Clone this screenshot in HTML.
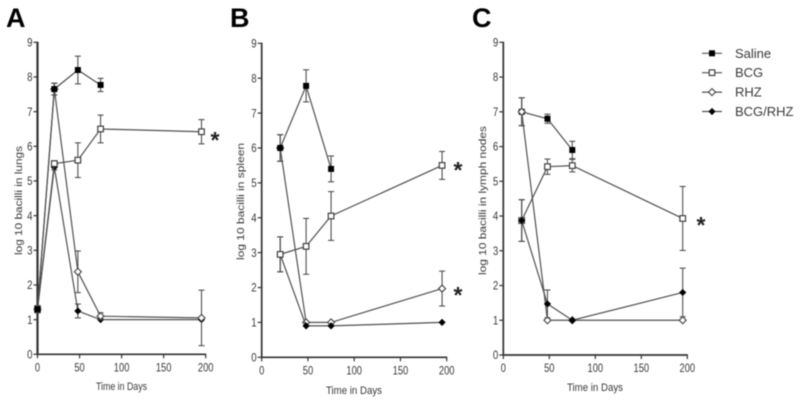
<!DOCTYPE html>
<html lang="en">
<head>
<meta charset="utf-8">
<title>Log 10 bacilli over time</title>
<style>
html,body{margin:0;padding:0;background:#fff;}
body{width:800px;height:402px;overflow:hidden;}
svg{display:block;filter:blur(0.45px);font-family:"Liberation Sans",sans-serif;}
</style>
</head>
<body>
<svg id="chart" width="800" height="402" viewBox="0 0 800 402" xmlns="http://www.w3.org/2000/svg"></svg>
<script>
const xTicks = [0, 50, 100, 150, 200];
const yTicks = [0, 1, 2, 3, 4, 5, 6, 7, 8, 9];
const legendLabels = ['Saline', 'BCG', 'RHZ', 'BCG/RHZ'];

const aSalineDays = [0, 20, 48, 75];
const aSalineValues = [1.3, 7.65, 8.2, 7.77];
const aSalineErrors = [0.1, 0.17, 0.4, 0.19];
const aBcgDays = [0, 20, 48, 75, 195];
const aBcgValues = [1.3, 5.5, 5.6, 6.5, 6.42];
const aBcgErrors = [0.1, 0.08, 0.5, 0.4, 0.35];
const aRhzDays = [0, 20, 48, 75, 195];
const aRhzValues = [1.3, 7.65, 2.38, 1.1, 1.05];
const aRhzErrors = [0.1, 0.17, 0.6, 0.1, 0.8];
const aComboDays = [0, 20, 48, 75, 195];
const aComboValues = [1.3, 5.4, 1.25, 1.0, 1.0];
const aComboErrors = [0.1, 0.08, 0.2, 0, 0];

const bSalineDays = [20, 48, 75];
const bSalineValues = [6.0, 7.78, 5.4];
const bSalineErrors = [0.38, 0.46, 0.37];
const bBcgDays = [20, 48, 75, 195];
const bBcgValues = [2.95, 3.18, 4.05, 5.5];
const bBcgErrors = [0.5, 0.8, 0.7, 0.4];
const bRhzDays = [20, 48, 75, 195];
const bRhzValues = [6.0, 1.0, 1.0, 1.97];
const bRhzErrors = [0.38, 0, 0, 0.5];
const bComboDays = [20, 48, 75, 195];
const bComboValues = [2.95, 0.9, 0.9, 1.0];
const bComboErrors = [0.5, 0, 0, 0];

const cSalineDays = [20, 48, 75];
const cSalineValues = [7.0, 6.8, 5.9];
const cSalineErrors = [0.4, 0.13, 0.25];
const cBcgDays = [20, 48, 75, 195];
const cBcgValues = [3.87, 5.42, 5.45, 3.93];
const cBcgErrors = [0.6, 0.22, 0.18, 0.92];
const cRhzDays = [20, 48, 75, 195];
const cRhzValues = [7.0, 1.0, 1.0, 1.0];
const cRhzErrors = [0.4, 0, 0, 0];
const cComboDays = [20, 48, 75, 195];
const cComboValues = [3.87, 1.47, 1.0, 1.8];
const cComboErrors = [0.6, 0.4, 0, 0.7];

const NS = 'http://www.w3.org/2000/svg';
const root = document.getElementById('chart');
const AXIS = '#333', LINE = '#505050', INK = '#383838';

function make(parent, tag, attrs, name) {
  const el = document.createElementNS(NS, tag);
  for (const k in attrs) el.setAttribute(k, attrs[k]);
  
  
  parent.appendChild(el);
  return el;
}
function label(parent, str, attrs, name) {
  const el = make(parent, 'text', attrs, name);
  el.textContent = str;
  return el;
}
function marker(parent, kind, x, y, name) {
  if (kind === 'saline') {
    make(parent, 'rect', {x: x - 3, y: y - 3, width: 6, height: 6, fill: '#000'}, name);
  } else if (kind === 'bcg') {
    make(parent, 'rect', {x: x - 2.8, y: y - 2.8, width: 5.6, height: 5.6, fill: '#fff', stroke: '#404040', 'stroke-width': 1.2}, name);
  } else if (kind === 'rhz') {
    make(parent, 'polygon', {points: [x, y - 3.5, x + 3.5, y, x, y + 3.5, x - 3.5, y].join(' '), fill: '#fff', stroke: '#404040', 'stroke-width': 1.1}, name);
  } else {
    make(parent, 'polygon', {points: [x, y - 3.6, x + 3.6, y, x, y + 3.6, x - 3.6, y].join(' '), fill: '#000'}, name);
  }
}
function drawSeries(g, s, sx, sy, key) {
  const group = make(g, 'g', {}, key + '-series');
  const pts = s.days.map((d, i) => sx(d) + ',' + sy(s.values[i])).join(' ');
  make(group, 'polyline', {points: pts, fill: 'none', stroke: LINE, 'stroke-width': 1.2}, key + '-line');
  s.days.forEach((d, i) => {
    const err = s.errors[i];
    if (err > 0) {
      const x = sx(d), hi = sy(s.values[i] + err), lo = sy(s.values[i] - err);
      make(group, 'line', {x1: x, x2: x, y1: hi, y2: lo, stroke: LINE, 'stroke-width': 1.1}, key + '-error-bar');
      make(group, 'line', {x1: x - 3, x2: x + 3, y1: hi, y2: hi, stroke: LINE, 'stroke-width': 1.1}, key + '-error-cap-top');
      make(group, 'line', {x1: x - 3, x2: x + 3, y1: lo, y2: lo, stroke: LINE, 'stroke-width': 1.1}, key + '-error-cap-bottom');
    }
  });
  s.days.forEach((d, i) => {
    marker(group, s.kind, sx(d), sy(s.values[i]), key + '-point');
  });
}
function drawPanel(p) {
  const g = make(root, 'g', {}, 'panel-' + p.id);
  const sx = v => p.x0 + (p.x200 - p.x0) * v / 200;
  const sy = v => p.y0 + (p.y9 - p.y0) * v / 9;
  label(g, p.id, {x: p.letterX, y: 27, 'font-size': 27, 'font-weight': 'bold', fill: '#000'}, 'panel-letter-' + p.id.toLowerCase());
  make(g, 'line', {x1: p.x0, x2: p.x0, y1: p.y9 - 0.5, y2: p.y0 + 0.5, stroke: AXIS, 'stroke-width': p.axisWidth}, 'y-axis');
  make(g, 'line', {x1: p.x0, x2: p.x200 + 0.5, y1: p.y0, y2: p.y0, stroke: AXIS, 'stroke-width': 1.7}, 'x-axis');
  yTicks.forEach(t => {
    make(g, 'line', {x1: p.x0 - 4, x2: p.x0, y1: sy(t), y2: sy(t), stroke: AXIS, 'stroke-width': 1.2}, 'y-tick');
    label(g, String(t), {x: p.x0 - 5, y: sy(t) + 4.2, 'font-size': 11.5, 'text-anchor': 'end', fill: INK, textLength: 5.4, lengthAdjust: 'spacingAndGlyphs'}, 'y-tick-label');
  });
  xTicks.forEach(t => {
    make(g, 'line', {x1: sx(t), x2: sx(t), y1: p.y0, y2: p.y0 + 4, stroke: AXIS, 'stroke-width': 1.2}, 'x-tick');
    label(g, String(t), {x: sx(t), y: p.y0 + 17, 'font-size': 11.5, 'text-anchor': 'middle', fill: INK, textLength: String(t).length * 5.2, lengthAdjust: 'spacingAndGlyphs'}, 'x-tick-label');
  });
  label(g, 'Time in Days', {x: p.xTitleX, y: p.xTitleY, 'font-size': 11, 'text-anchor': 'middle', fill: INK, textLength: p.xTitleLen, lengthAdjust: 'spacingAndGlyphs'}, 'x-axis-title');
  label(g, p.yTitle, {x: 0, y: 0, 'font-size': 10.5, 'text-anchor': 'middle', fill: INK, textLength: p.yTitleLen, lengthAdjust: 'spacingAndGlyphs', transform: 'translate(' + p.yTitleX + ',' + p.yTitleY + ') rotate(-90)'}, 'y-axis-title');
  p.order.forEach(key => drawSeries(g, p.series[key], sx, sy, key));
  p.stars.forEach(s => {
    label(g, '*', {x: s[0], y: s[1] + 12, 'font-size': 23, 'font-weight': 'bold', 'text-anchor': 'middle', fill: '#222'}, 'significance-asterisk');
  });
}

drawPanel({
  id: 'A', letterX: 6, x0: 37.5, x200: 205.7, y0: 354.3, y9: 42.3, axisWidth: 2.2,
  xTitleX: 121.5, xTitleY: 390, xTitleLen: 51,
  yTitle: 'log 10 bacilli in lungs', yTitleX: 22, yTitleY: 200.5, yTitleLen: 109,
  order: ['combo', 'rhz', 'bcg', 'saline'], stars: [[215, 136]],
  series: {
    saline: {kind: 'saline', days: aSalineDays, values: aSalineValues, errors: aSalineErrors},
    bcg: {kind: 'bcg', days: aBcgDays, values: aBcgValues, errors: aBcgErrors},
    rhz: {kind: 'rhz', days: aRhzDays, values: aRhzValues, errors: aRhzErrors},
    combo: {kind: 'combo', days: aComboDays, values: aComboValues, errors: aComboErrors}
  }
});
drawPanel({
  id: 'B', letterX: 230, x0: 261.7, x200: 446.7, y0: 357.3, y9: 43.3, axisWidth: 1.7,
  xTitleX: 354, xTitleY: 394, xTitleLen: 56,
  yTitle: 'log 10 bacilli in spleen', yTitleX: 244, yTitleY: 201.5, yTitleLen: 117,
  order: ['rhz', 'combo', 'bcg', 'saline'], stars: [[458, 166], [458, 291]],
  series: {
    saline: {kind: 'saline', days: bSalineDays, values: bSalineValues, errors: bSalineErrors},
    bcg: {kind: 'bcg', days: bBcgDays, values: bBcgValues, errors: bBcgErrors},
    rhz: {kind: 'rhz', days: bRhzDays, values: bRhzValues, errors: bRhzErrors},
    combo: {kind: 'combo', days: bComboDays, values: bComboValues, errors: bComboErrors}
  }
});
drawPanel({
  id: 'C', letterX: 472, x0: 503.3, x200: 687.3, y0: 355, y9: 42.3, axisWidth: 1.7,
  xTitleX: 595, xTitleY: 391, xTitleLen: 56,
  yTitle: 'log 10 bacilli in lymph nodes', yTitleX: 486, yTitleY: 200.5, yTitleLen: 149,
  order: ['saline', 'bcg', 'rhz', 'combo'], stars: [[701, 221]],
  series: {
    saline: {kind: 'saline', days: cSalineDays, values: cSalineValues, errors: cSalineErrors},
    bcg: {kind: 'bcg', days: cBcgDays, values: cBcgValues, errors: cBcgErrors},
    rhz: {kind: 'rhz', days: cRhzDays, values: cRhzValues, errors: cRhzErrors},
    combo: {kind: 'combo', days: cComboDays, values: cComboValues, errors: cComboErrors}
  }
});

const legend = make(root, 'g', {}, 'legend');
const legendKinds = ['saline', 'bcg', 'rhz', 'combo'];
legendLabels.forEach((text, i) => {
  const y = 53.3 + i * 19.4;
  const entry = make(legend, 'g', {}, 'legend-entry');
  make(entry, 'line', {x1: 702, x2: 722, y1: y, y2: y, stroke: LINE, 'stroke-width': 1.2}, 'legend-line');
  marker(entry, legendKinds[i], 712, y, 'legend-marker');
  label(entry, text, {x: 735, y: y + 4.5, 'font-size': 13, fill: INK}, 'legend-label');
});
</script>
</body>
</html>
